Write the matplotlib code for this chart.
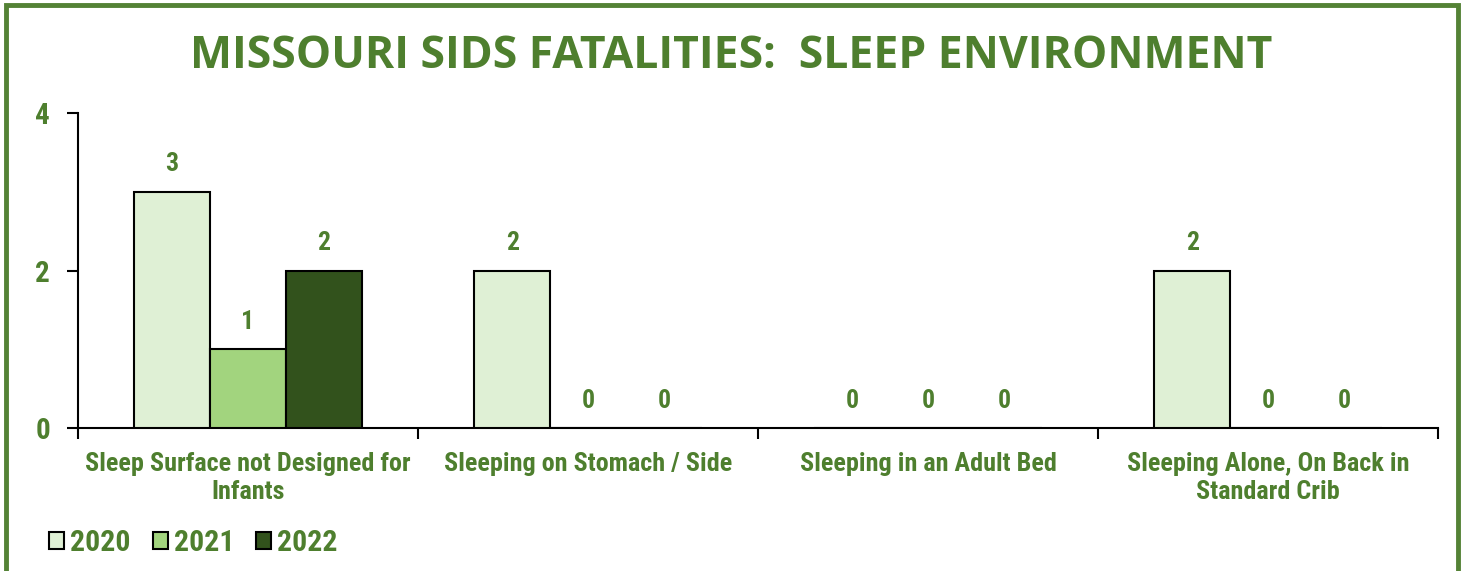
import matplotlib
matplotlib.use("Agg")
import matplotlib.pyplot as plt
from matplotlib import font_manager
from matplotlib.patches import Rectangle, Patch
import numpy as np

categories = ["Sleep Surface not Designed for\nInfants", "Sleeping on Stomach / Side",
              "Sleeping in an Adult Bed", "Sleeping Alone, On Back in\nStandard Crib"]
years = ["2020", "2021", "2022"]
values_2020 = [3, 2, 0, 2]
values_2021 = [1, 0, 0, 0]
values_2022 = [2, 0, 0, 0]
series = [values_2020, values_2021, values_2022]
colors = ["#DFF0D5", "#A2D47E", "#32521C"]
green = "#4E7F2E"
border = "#548235"

# choose a narrow bold font available in the sandbox
fl = font_manager.fontManager.ttflist
names = {f.name for f in fl}
narrow_fam, narrow_stretch, scale = None, "normal", 1.0
for cand in ["Liberation Sans Narrow", "Arial Narrow", "Roboto Condensed", "Open Sans Condensed"]:
    if cand in names:
        narrow_fam = cand
        break
if narrow_fam is None:
    if any(f.name == "DejaVu Sans" and "condensed" in str(f.stretch) for f in fl):
        narrow_fam, narrow_stretch = "DejaVu Sans", "condensed"
        scale = 0.85
    else:
        narrow_fam, scale = "Roboto", 0.85
narrow = [narrow_fam, "DejaVu Sans"]
fkw = dict(family=narrow, fontstretch=narrow_stretch, fontweight="bold")

fig = plt.figure(figsize=(14.66, 5.71), dpi=100)
ax = fig.add_axes([78/1466, 1-428/571, (1438-78)/1466, (428-113)/571])

x = np.arange(len(categories))
w = 0.223
for i, (vals, c) in enumerate(zip(series, colors)):
    pos = x + (i - 1) * w
    ax.bar(pos, vals, w, color=c, edgecolor="black", linewidth=1.5, label=years[i], zorder=3)
    for p, v in zip(pos, vals):
        ax.annotate(str(v), (p, v), xytext=(0, 11), textcoords="offset points",
                    ha="center", va="bottom", color=green, fontsize=18.5 * scale, **fkw)

ax.set_xlim(-0.5, len(categories) - 0.5)
ax.set_ylim(0, 4)
ax.set_yticks([0, 2, 4])
ax.set_yticklabels(["0", "2", "4"], color=green, fontsize=21 * scale, **fkw)
ax.tick_params(axis="y", length=8, width=1.5, pad=12, direction="out")
ax.set_xticks(x)
ax.set_xticklabels(categories, color=green, fontsize=18.8 * scale, linespacing=1.25, **fkw)
ax.tick_params(axis="x", which="major", length=0, pad=17)
ax.set_xticks(np.arange(-0.5, len(categories)), minor=True)
ax.tick_params(axis="x", which="minor", length=8, width=1.5, direction="out")
for s in ["top", "right"]:
    ax.spines[s].set_visible(False)
for s in ["left", "bottom"]:
    ax.spines[s].set_linewidth(1.5)

fig.text(731/1466, 1-57/571, "MISSOURI SIDS FATALITIES:  SLEEP ENVIRONMENT",
         ha="center", va="center", color=green, fontsize=32, fontweight="bold",
         family=["Open Sans", "DejaVu Sans"])

handles = [Patch(facecolor=c, edgecolor="black", linewidth=1.5) for c in colors]
leg = fig.legend(handles, years, loc="center left", bbox_to_anchor=(22/1466, 1-543/571),
                 ncol=3, frameon=False, handlelength=0.5, handleheight=0.5,
                 handletextpad=0.2, columnspacing=0.75,
                 prop={"family": narrow, "size": 21.5 * scale, "weight": "bold",
                       "stretch": narrow_stretch})
for t in leg.get_texts():
    t.set_color(green)

fig.add_artist(Rectangle((6/1466, -0.05), (1458-6)/1466, 1.05 - 5/571,
                         transform=fig.transFigure, fill=False, edgecolor=border,
                         linewidth=3.5))

fig.savefig("out.png", dpi=100)
